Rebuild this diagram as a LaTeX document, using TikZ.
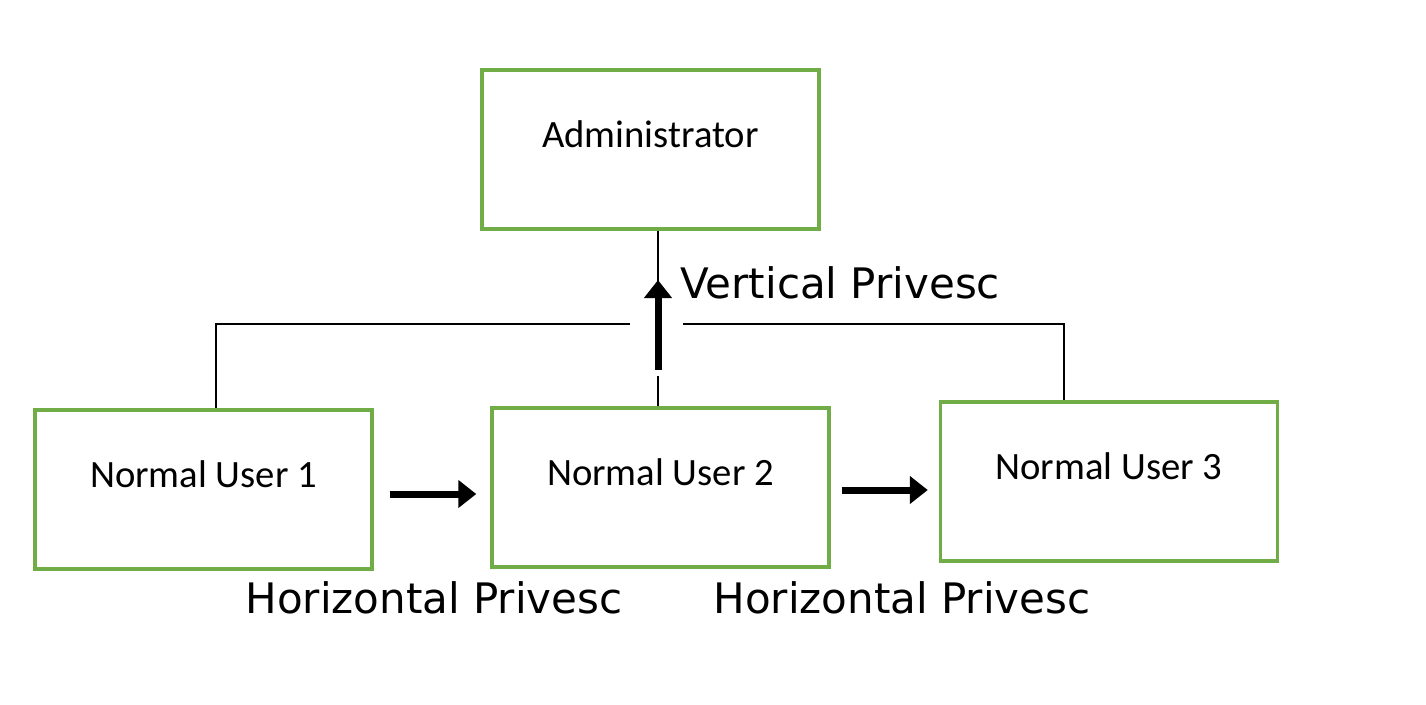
\documentclass[tikz,border=0pt]{standalone}
\usepackage{fontspec}
\setmainfont{Carlito}
\newfontfamily\lblfont{DejaVu Sans}
\usetikzlibrary{arrows.meta}
\definecolor{boxgreen}{RGB}{112,173,71}

\begin{document}
\begin{tikzpicture}[x=0.02cm, y=-0.02cm,
  userbox/.style = {draw = boxgreen, line width = 0.07cm, minimum width = 6.74cm, minimum height = 3.18cm, inner sep = 0pt},
  boxtext/.style = {font = \fontsize{22}{26}\selectfont, yshift = 0.3cm},
  privtext/.style = {font = \lblfont\fontsize{23.9}{28}\selectfont, inner sep = 0pt},
  thinline/.style = {line width = 0.03cm},
  bigarrow/.style = {line width = 0.14cm, -{Triangle[length = 0.36cm, width = 0.54cm]}}]

\useasboundingbox (0,0) rectangle (1426,704);

% the four boxes
\node[userbox, label = {[boxtext]center:Administrator}] (admin) at (650.5,149.5) {};
\node[userbox, label = {[boxtext]center:Normal User 1}] (nu1) at (203.5,489.5) {};
\node[userbox, label = {[boxtext]center:Normal User 2}] (nu2) at (660.5,487.5) {};
\node[userbox, label = {[boxtext]center:Normal User 3}] (nu3) at (1109,481.5) {};

% tree lines
\coordinate (lgap) at (630,324);
\coordinate (rgap) at (683,324);
\coordinate (vtip) at (658,280);
\coordinate (vtail) at (658,370);
\draw[thinline] ([xshift = 0.25cm]nu1.north) |- (lgap);
\draw[thinline] (rgap) -| ([xshift = -0.9cm]nu3.north);
\draw[thinline] (admin.south -| vtip) -- ([yshift = -0.1cm]vtip);
\draw[thinline] (nu2.north -| vtail) -- ([yshift = -0.12cm]vtail);

% privesc arrows
\draw[bigarrow] (vtail) -- (vtip);
\draw[bigarrow] ([xshift = 0.32cm, yshift = -0.09cm]nu1.east) -- ([xshift = -0.28cm, yshift = -0.09cm]nu1.east -| nu2.west);
\draw[bigarrow] ([xshift = 0.22cm, yshift = -0.05cm]nu2.east) -- ([xshift = -0.22cm, yshift = -0.05cm]nu2.east -| nu3.west);

\node[privtext, anchor = west] (vlbl) at (680,283) {Vertical Privesc};
\node[privtext] (hlbl1) at (434,598) {Horizontal Privesc};
\node[privtext] (hlbl2) at (902,598) {Horizontal Privesc};
\end{tikzpicture}
\end{document}
